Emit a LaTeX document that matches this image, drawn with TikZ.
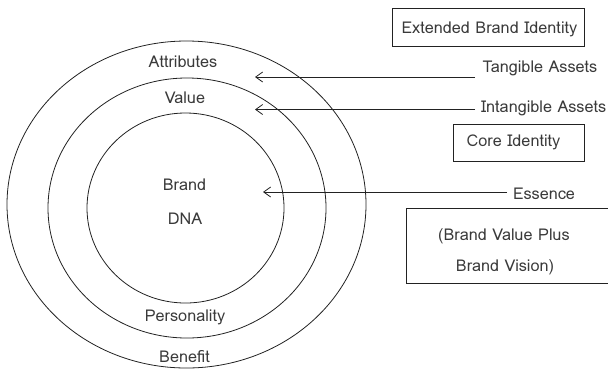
\documentclass[tikz,border=0pt]{standalone}
\usepackage{fontspec}
\setmainfont{Loma}
\usetikzlibrary{shapes.geometric,arrows.meta}
\definecolor{inkline}{HTML}{222222}
\definecolor{inktext}{HTML}{3A3A3A}
\tikzset{
  ring/.style={draw=inkline, line width=0.8bp, ellipse, inner sep=0pt},
  lbl/.style={text=inktext, font=\fontsize{16.3}{18}\selectfont, inner sep=0pt},
  tagbox/.style={draw=inkline, line width=0.8bp, inner sep=0pt},
  feed/.style={draw=inkline, line width=0.8bp, -{Straight Barb[length=7bp,width=10bp,line width=0.8bp]}}
}
\begin{document}
\begin{tikzpicture}[x=1bp,y=-1bp]
  \useasboundingbox (0,0) rectangle (608,370);
  % nested brand rings
  \node[ring, minimum width=359bp, minimum height=327bp] (outer) at (186.5,204.5) {};
  \node[ring, minimum width=278bp, minimum height=260bp] (middle) at (187,208) {};
  \node[ring, minimum width=197bp, minimum height=190bp] (inner) at (185.5,208) {};
  % ring labels
  \node[lbl] (attr) at (183,62) {Attributes};
  \node[lbl] (value) at (185,98) {Value};
  \node[lbl] (brand) at (184.5,185) {Brand};
  \node[lbl] (dna) at (185,219) {DNA};
  \node[lbl] (pers) at (185,317) {Personality};
  \node[lbl] (bene) at (184.5,357) {Benefit};
  % identity boxes
  \draw[tagbox] (392,8) rectangle (584,46);
  \node[lbl] (ext) at (489.5,29) {Extended Brand Identity};
  \draw[tagbox] (453,124) rectangle (584,161);
  \node[lbl] (core) at (513.5,142) {Core Identity};
  \draw[tagbox] (406,208) rectangle (614,283);
  \node[lbl] (bv1) at (504,236) {(Brand Value Plus};
  \node[lbl] (bv2) at (505,267) {Brand Vision)};
  % asset labels and pointers
  \node[lbl] (tang) at (540,68) {Tangible Assets};
  \node[lbl, anchor=east] (intang) at (606.5,108) {Intangible Assets};
  \node[lbl] (ess) at (544,194) {Essence};
  \coordinate (tangS) at (475,77);
  \coordinate (tangE) at (255,77);
  \coordinate (intS) at (475,109.5);
  \coordinate (intE) at (255,109.5);
  \coordinate (essS) at (507,192);
  \coordinate (essE) at (263,192);
  \draw[feed] (tangS) -- (tangE);
  \draw[feed] (intS) -- (intE);
  \draw[feed] (essS) -- (essE);
\end{tikzpicture}
\end{document}
